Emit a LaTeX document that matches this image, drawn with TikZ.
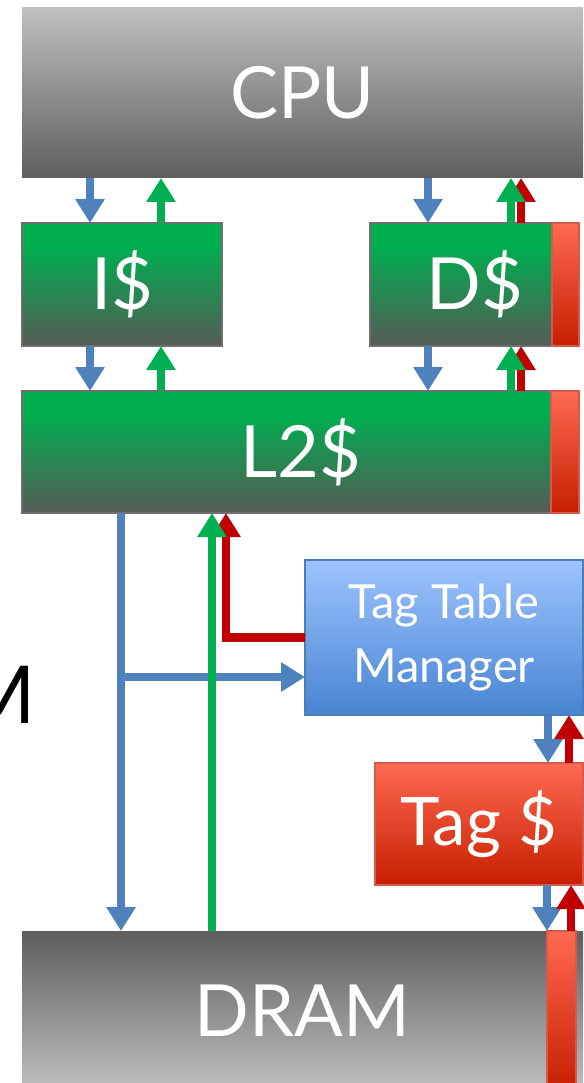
\documentclass[tikz,border=0pt]{standalone}
\usepackage{fontspec}
\setmainfont{Lato}
\usetikzlibrary{arrows.meta}

% box fills
\definecolor{cpuTop}{HTML}{BFBFBF}
\definecolor{cpuBot}{HTML}{5E5E5E}
\definecolor{gTop}{HTML}{00AD4F}
\definecolor{gBot}{HTML}{575A57}
\definecolor{rTop}{HTML}{FF6952}
\definecolor{rBot}{HTML}{C61F00}
\definecolor{bTop}{HTML}{9DC3FF}
\definecolor{bBot}{HTML}{4884D2}
% borders
\definecolor{gEdge}{HTML}{6F6F6F}
\definecolor{rEdge}{HTML}{D45A50}
\definecolor{bEdge}{HTML}{4A7EBB}
% connectors
\definecolor{flowBlue}{HTML}{4F81BD}
\definecolor{flowGreen}{HTML}{00B050}
\definecolor{flowRed}{HTML}{C00000}

% green cache fill: solid green at the top, fading to grey
\pgfdeclareverticalshading{cachegreen}{100bp}{color(0bp)=(gBot); color(25bp)=(gBot); color(65bp)=(gTop); color(100bp)=(gTop)}

\tikzset{
  box/.style={rectangle, anchor=north west, inner sep=0pt, outer sep=0pt,
              text=white, font=\fontsize{72}{80}\selectfont},
  grayfall/.style={box, top color=cpuTop, bottom color=cpuBot},
  grayrise/.style={box, top color=cpuBot, bottom color=cpuTop},
  greenbox/.style={box, shading=cachegreen, draw=gEdge, line width=1.5pt},
  redbox/.style={box, top color=rTop, bottom color=rBot, draw=rEdge, line width=1.5pt},
  bluebox/.style={box, top color=bTop, bottom color=bBot, draw=bEdge, line width=1.5pt},
  flow/.style={line width=8.5pt},
  bflow/.style={flow, draw=flowBlue, -{Triangle[width=28pt,length=24pt]}},
  gflow/.style={flow, draw=flowGreen, -{Triangle[width=28pt,length=24pt]}},
  rflow/.style={flow, draw=flowRed, line join=miter, -{Triangle[width=28pt,length=24pt]}},
}

\begin{document}
\begin{tikzpicture}[x=1pt, y=-1pt]
\useasboundingbox (0,0) rectangle (583,1083);

% partial label at the left edge
\node[anchor=base east, inner sep=0pt, font=\fontsize{80}{80}\selectfont] (mlabel) at (36,723) {M};

% blocks
\node[grayfall, minimum width=561pt, minimum height=170pt] (cpu) at (22,8) {CPU};
\node[greenbox, minimum width=200pt, minimum height=123pt] (icache) at (22,223) {I\$};
\node[greenbox, minimum width=209pt, minimum height=123pt] (dcache) at (370,223) {D\$};
\node[redbox, minimum width=27pt, minimum height=123pt] (dtag) at (552,223) {};
\node[greenbox, minimum width=557pt, minimum height=122pt] (l2) at (22,391) {L2\$};
\node[redbox, minimum width=28pt, minimum height=122pt] (l2tag) at (551,391) {};
\node[bluebox, minimum width=278pt, minimum height=155pt, align=center,
      font=\fontsize{47}{64}\selectfont] (ttm) at (305,560) {Tag Table\\Manager};
\node[redbox, minimum width=208pt, minimum height=122pt,
      font=\fontsize{67}{72}\selectfont] (tagc) at (375,763) {Tag \$};
\node[grayrise, minimum width=561pt, minimum height=160pt] (dram) at (22,931) {DRAM};
\node[redbox, minimum width=29pt, minimum height=160pt] (dramtag) at (547,931) {};

% connector columns
\coordinate (xIdn) at (90,0);
\coordinate (xIup) at (161,0);
\coordinate (xDdn) at (428,0);
\coordinate (xDup) at (511,0);
\coordinate (xDtag) at (521,0);
\coordinate (xMem) at (121,0);
\coordinate (xFill) at (212,0);
\coordinate (xBack) at (226,0);
\coordinate (xTdn) at (548,0);
\coordinate (xTup) at (569,0);
\coordinate (xMdn) at (547,0);
\coordinate (xMup) at (571,0);
\coordinate (split) at (121,677);

% CPU <-> I$ <-> L2
\draw[bflow] (cpu.south -| xIdn) -- (icache.north -| xIdn);
\draw[gflow] (icache.north -| xIup) -- (cpu.south -| xIup);
\draw[bflow] (icache.south -| xIdn) -- (l2.north -| xIdn);
\draw[gflow] (l2.north -| xIup) -- (icache.south -| xIup);

% CPU <-> D$ <-> L2
\draw[bflow] (cpu.south -| xDdn) -- (dcache.north -| xDdn);
\draw[rflow] (dcache.north -| xDtag) -- (cpu.south -| xDtag);
\draw[gflow] (dcache.north -| xDup) -- (cpu.south -| xDup);
\draw[bflow] (dcache.south -| xDdn) -- (l2.north -| xDdn);
\draw[rflow] (l2.north -| xDtag) -- (dcache.south -| xDtag);
\draw[gflow] (l2.north -| xDup) -- (dcache.south -| xDup);

% L2 <-> DRAM, with the tag path
\draw[bflow] (l2.south -| xMem) -- (dram.north -| xMem);
\draw[bflow] (split) -- (split -| ttm.west);
\draw[rflow] (ttm.west) -| (l2.south -| xBack);
\draw[gflow] (dram.north -| xFill) -- (l2.south -| xFill);

% Tag Table Manager <-> Tag $ <-> DRAM
\draw[bflow] (ttm.south -| xTdn) -- (tagc.north -| xTdn);
\draw[rflow] (tagc.north -| xTup) -- (ttm.south -| xTup);
\draw[bflow] (tagc.south -| xMdn) -- (dram.north -| xMdn);
\draw[rflow] (dram.north -| xMup) -- (tagc.south -| xMup);
\end{tikzpicture}
\end{document}
